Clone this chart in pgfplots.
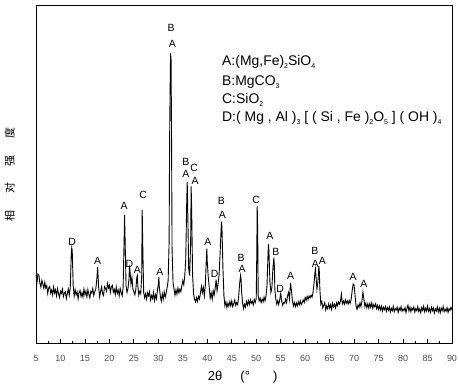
\documentclass[border=0pt]{standalone}
\usepackage{fontspec}
\setmainfont{Liberation Sans}
\newfontfamily\cjk{Noto Sans CJK SC}
\usepackage{pgfplots}
\pgfplotsset{compat=1.18}
\usepackage{pgfplotstable}
\newcommand{\sub}[1]{\raisebox{-0.5ex}{\fontsize{7}{7}\selectfont #1}}
\pgfplotstableread{
x y
5.0 20.3
5.2 18.0
5.4 20.5
5.6 20.1
5.8 17.7
6.0 16.6
6.2 18.6
6.4 17.5
6.6 16.2
6.8 18.0
7.0 16.3
7.2 17.0
7.4 14.7
7.6 16.4
7.8 16.8
8.0 14.8
8.2 15.7
8.4 14.3
8.6 16.6
8.8 14.8
9.0 15.8
9.2 14.0
9.4 16.1
9.6 14.7
9.8 13.5
10.0 15.3
10.2 14.7
10.4 16.0
10.6 13.8
10.8 14.8
11.0 15.2
11.2 13.2
11.4 14.7
11.6 16.0
11.8 14.2
12.0 16.5
12.2 26.0
12.3 28.2
12.4 27.5
12.6 17.0
12.8 13.9
13.0 15.8
13.2 14.3
13.4 15.2
13.6 13.1
13.8 15.0
14.0 15.6
14.2 13.8
14.4 14.9
14.6 13.6
14.8 16.0
15.0 14.3
15.2 15.4
15.4 13.7
15.6 15.8
15.8 14.5
16.0 13.4
16.2 15.3
16.4 14.8
16.6 16.2
16.8 14.1
17.0 15.2
17.2 15.8
17.4 18.5
17.6 22.5
17.8 16.5
18.0 13.7
18.2 15.3
18.4 16.6
18.6 14.7
18.8 14.1
19.0 16.7
19.2 16.2
19.4 15.4
19.6 17.7
19.8 16.3
20.0 17.2
20.2 15.0
20.4 16.7
20.6 17.1
20.8 15.1
21.0 15.9
21.2 14.4
21.4 16.6
21.6 14.7
21.8 15.7
22.0 14.0
22.2 16.2
22.4 15.0
22.6 14.0
22.8 16.5
23.0 30.0
23.1 38.0
23.2 31.0
23.4 17.0
23.6 15.0
23.8 16.2
24.0 19.0
24.1 23.0
24.2 21.5
24.4 17.5
24.6 19.5
24.8 16.0
25.0 15.2
25.2 14.3
25.4 16.0
25.6 19.5
25.7 20.0
25.8 17.0
26.0 14.2
26.2 15.3
26.4 14.6
26.6 20.0
26.7 39.5
26.8 30.0
27.0 15.0
27.2 13.4
27.4 14.6
27.6 13.0
27.8 14.9
28.0 14.0
28.2 15.2
28.4 12.8
28.6 14.1
28.8 13.2
29.0 15.0
29.2 12.6
29.4 14.3
29.6 13.1
29.8 15.5
30.0 17.5
30.1 19.6
30.2 16.5
30.4 14.0
30.6 12.4
30.8 14.5
31.0 13.0
31.2 15.2
31.4 13.6
31.6 14.8
31.8 16.5
32.0 18.5
32.2 30.0
32.3 60.0
32.4 75.0
32.5 86.0
32.6 84.0
32.7 60.0
32.8 28.0
33.0 18.0
33.2 16.0
33.4 14.2
33.6 15.8
33.8 14.5
34.0 16.3
34.2 14.9
34.4 16.0
34.6 15.2
34.8 17.0
35.0 18.5
35.2 17.3
35.4 20.0
35.6 25.0
35.8 42.0
35.9 47.8
36.0 40.0
36.2 22.0
36.4 20.0
36.6 30.0
36.7 46.5
36.8 40.0
37.0 20.0
37.2 14.5
37.4 13.0
37.6 12.2
37.8 13.5
38.0 12.4
38.2 13.8
38.4 13.0
38.6 14.8
38.8 16.8
39.0 15.0
39.2 16.5
39.4 14.0
39.6 17.0
39.8 25.0
39.9 28.0
40.0 24.0
40.2 19.5
40.4 16.5
40.6 13.4
40.8 14.8
41.0 13.0
41.2 15.5
41.4 14.2
41.6 16.0
41.8 18.8
42.0 15.5
42.2 17.5
42.4 20.0
42.6 26.0
42.8 33.0
42.9 36.0
43.0 34.0
43.2 22.0
43.4 14.0
43.6 11.0
43.8 12.2
44.0 10.5
44.2 11.8
44.4 10.9
44.6 12.3
44.8 11.0
45.0 12.5
45.2 10.8
45.4 11.6
45.6 12.7
45.8 11.2
46.0 12.0
46.2 11.4
46.4 13.5
46.6 17.5
46.8 20.0
46.9 19.0
47.0 15.5
47.2 12.0
47.4 10.2
47.6 11.5
47.8 10.6
48.0 12.3
48.2 11.2
48.4 12.6
48.6 11.4
48.8 12.8
49.0 11.8
49.2 12.4
49.4 11.3
49.6 12.9
49.8 12.0
50.0 13.2
50.1 25.0
50.2 40.6
50.3 33.0
50.4 14.0
50.6 12.5
50.8 13.3
51.0 12.0
51.2 13.0
51.4 12.2
51.6 13.6
51.8 12.5
52.0 14.0
52.2 17.0
52.4 26.0
52.5 29.4
52.6 27.0
52.8 18.0
53.0 15.0
53.2 16.5
53.4 22.0
53.6 25.3
53.7 23.0
53.8 16.0
54.0 13.0
54.2 11.5
54.4 12.6
54.6 11.4
54.8 12.8
55.0 14.8
55.2 12.4
55.4 11.2
55.6 12.0
55.8 11.8
56.0 13.0
56.2 12.0
56.4 14.0
56.6 15.0
56.8 13.0
57.0 17.8
57.2 15.5
57.4 12.5
57.6 11.0
57.8 12.0
58.0 10.8
58.2 11.9
58.4 11.0
58.6 12.2
58.8 11.3
59.0 12.5
59.2 11.4
59.4 12.0
59.6 12.8
59.8 12.0
60.0 13.5
60.2 12.6
60.4 13.8
60.6 12.9
60.8 14.0
61.0 13.4
61.2 14.2
61.4 13.6
61.6 15.0
61.8 17.5
62.0 21.0
62.1 22.0
62.2 20.0
62.4 16.0
62.6 18.0
62.8 22.8
62.9 21.0
63.0 16.0
63.2 11.5
63.4 12.3
63.6 10.4
63.8 11.2
64.0 12.0
64.2 9.8
64.4 11.0
64.6 10.2
64.8 11.6
65.0 10.3
65.2 11.4
65.4 10.0
65.6 11.8
65.8 10.7
66.0 11.5
66.2 10.4
66.4 11.9
66.6 11.0
66.8 12.2
67.0 11.5
67.2 12.3
67.4 14.5
67.6 11.6
67.8 12.4
68.0 11.5
68.2 12.8
68.4 11.8
68.6 12.5
68.8 11.6
69.0 12.6
69.2 11.8
69.4 13.0
69.6 15.5
69.8 17.5
70.0 17.2
70.2 14.0
70.4 11.0
70.6 10.0
70.8 11.3
71.0 10.6
71.2 11.9
71.4 10.8
71.6 12.5
71.8 15.1
72.0 13.0
72.2 10.8
72.4 11.8
72.6 10.5
72.8 11.6
73.0 10.4
73.2 11.7
73.4 10.6
73.6 11.9
73.8 10.3
74.0 11.4
74.2 10.8
74.4 11.6
74.6 10.2
74.8 11.2
75.0 10.0
75.2 11.0
75.4 9.8
75.6 10.9
75.8 9.5
76.0 10.6
76.2 9.9
76.4 10.8
76.6 9.4
76.8 10.5
77.0 9.7
77.2 10.7
77.4 9.2
77.6 10.3
77.8 9.6
78.0 10.9
78.2 9.3
78.4 10.2
78.6 9.8
78.8 10.6
79.0 9.1
79.2 10.4
79.4 9.7
79.6 10.8
79.8 9.4
80.0 10.1
80.2 9.6
80.4 10.5
80.6 9.0
80.8 10.3
81.0 11.2
81.2 9.5
81.4 10.6
81.6 9.3
81.8 10.4
82.0 9.8
82.2 10.7
82.4 9.2
82.6 10.2
82.8 9.6
83.0 10.8
83.2 9.4
83.4 10.1
83.6 9.0
83.8 10.5
84.0 9.7
84.2 10.9
84.4 9.3
84.6 10.3
84.8 9.5
85.0 11.0
85.2 9.4
85.4 10.2
85.6 9.1
85.8 10.6
86.0 9.6
86.2 10.4
86.4 8.9
86.6 10.1
86.8 9.5
87.0 10.7
87.2 9.2
87.4 10.3
87.6 9.0
87.8 10.4
88.0 9.6
88.2 10.8
88.4 9.3
88.6 10.0
88.8 9.4
89.0 10.5
89.2 9.1
89.4 10.2
89.6 9.7
89.8 10.6
90.0 9.8
}\xrd
\begin{document}
\begin{tikzpicture}
\path[use as bounding box] (-36bp,-44bp) rectangle (423bp,343bp);
\begin{axis}[
  scale only axis, width=416bp, height=337bp,
  xmin=5, xmax=90, ymin=0, ymax=100,
  axis line style={line width=1bp},
  xtick={5,10,...,90}, minor x tick num=1,
  ytick=\empty, xtick pos=bottom, tick align=inside,
  major tick length=4bp, minor tick length=2bp,
  tick style={black, line width=0.8bp},
  xticklabel style={font=\fontsize{9}{9}\selectfont, text=black!70, yshift=-9bp},
  /pgf/number format/assume math mode=true,
  xlabel={2θ\hspace{1.4em}(°\hspace{1.8em})},
  xlabel style={font=\fontsize{13}{13}\selectfont, at={(axis description cs:0.497,-0.101)}, anchor=center},
  ylabel={相\hspace{1.5em}对\hspace{1.5em}强\hspace{1.5em}度},
  ylabel style={font=\cjk\fontsize{11}{11}\selectfont, at={(axis description cs:-0.063,0.5)}, anchor=center},
  clip=false,
]
\addplot[black, line width=0.9bp] table[x=x,y=y] {\xrd};
\begin{scope}[every node/.style={font=\fontsize{10.5}{10.5}\selectfont, inner sep=0pt}]
\node at (axis cs:32.6,93.4) {B};
\node at (axis cs:32.85,88.9) {A};
\node at (axis cs:35.6,53.7) {B};
\node at (axis cs:35.6,50.1) {A};
\node at (axis cs:37.3,52.0) {C};
\node at (axis cs:37.5,48.2) {A};
\node at (axis cs:23.0,40.7) {A};
\node at (axis cs:26.9,43.9) {C};
\node at (axis cs:12.4,30.1) {D};
\node at (axis cs:17.6,24.4) {A};
\node at (axis cs:24.1,23.4) {D};
\node at (axis cs:25.7,21.7) {A};
\node at (axis cs:30.3,21.0) {A};
\node at (axis cs:40.1,30.0) {A};
\node at (axis cs:41.5,20.4) {D};
\node at (axis cs:42.9,42.1) {B};
\node at (axis cs:43.1,38.0) {A};
\node at (axis cs:46.9,25.4) {B};
\node at (axis cs:47.1,22.0) {A};
\node at (axis cs:50.0,42.6) {C};
\node at (axis cs:52.8,31.8) {A};
\node at (axis cs:54.0,27.0) {B};
\node at (axis cs:54.9,16.2) {D};
\node at (axis cs:57.0,19.8) {A};
\node at (axis cs:62.0,27.4) {B};
\node at (axis cs:62.1,23.6) {A};
\node at (axis cs:63.5,24.3) {A};
\node at (axis cs:69.8,19.7) {A};
\node at (axis cs:72.0,17.4) {A};
\end{scope}
\begin{scope}[every node/.style={font=\fontsize{14}{14}\selectfont, inner sep=0pt, anchor=west}]
\node at (axis cs:43.0,83.4) {A:(Mg,Fe)\sub{2}SiO\sub{4}};
\node at (axis cs:43.0,77.4) {B:MgCO\sub{3}};
\node at (axis cs:43.0,72.1) {C:SiO\sub{2}};
\node at (axis cs:43.0,66.8) {D:( Mg , Al )\sub{3} [ ( Si , Fe )\sub{2}O\sub{5} ] ( OH )\sub{4}};
\end{scope}
\end{axis}
\end{tikzpicture}
\end{document}
